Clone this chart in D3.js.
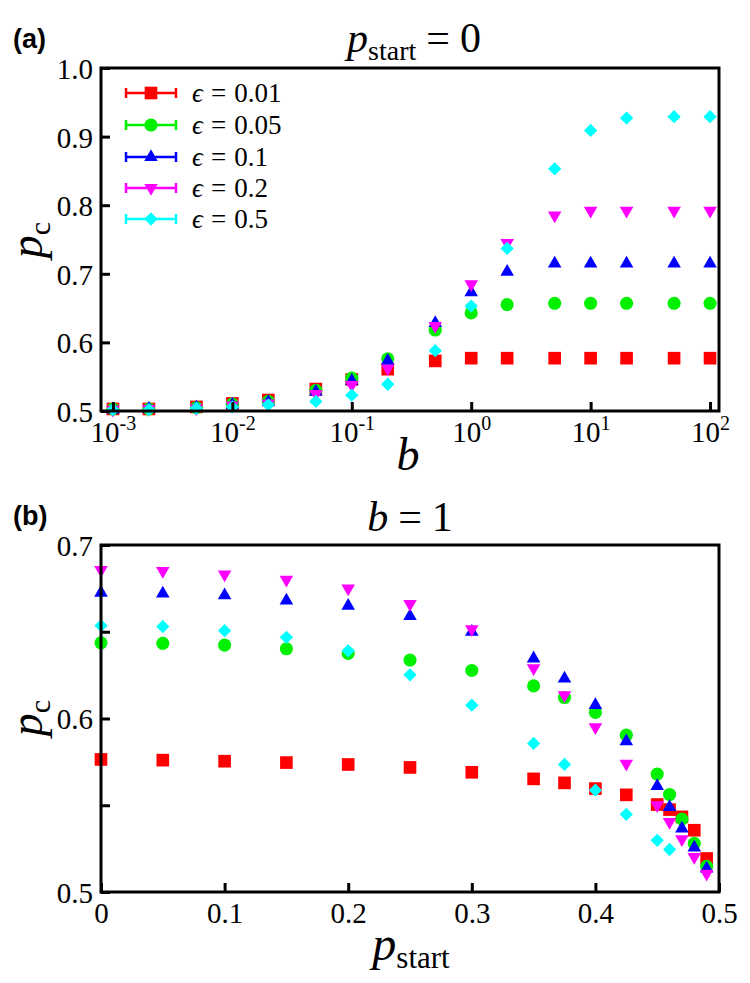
<!DOCTYPE html>
<html><head><meta charset="utf-8">
<script src="https://cdn.jsdelivr.net/npm/d3@7"></script>
<style>body{margin:0;background:#fff}svg{display:block}</style>
</head><body>
<script>
// ---------- data ----------
const epsLabels = ["0.01", "0.05", "0.1", "0.2", "0.5"];
const colors = ["#ff0000", "#00f000", "#0000ff", "#ff00ff", "#00ffff"];
const shapes = ["square", "circle", "triUp", "triDown", "diamond"];

// panel (a): p_start = 0, p_c vs b
const bValues = [0.001, 0.002, 0.005, 0.01, 0.02, 0.05, 0.1, 0.2, 0.5, 1, 2, 5, 10, 20, 50, 100];
const a_eps001 = [0.503, 0.503, 0.506, 0.511, 0.516, 0.532, 0.546, 0.561, 0.573, 0.577, 0.577, 0.577, 0.577, 0.577, 0.577, 0.577];
const a_eps005 = [0.503, 0.503, 0.505, 0.510, 0.514, 0.530, 0.548, 0.576, 0.618, 0.643, 0.655, 0.657, 0.657, 0.657, 0.657, 0.657];
const a_eps01  = [0.502, 0.503, 0.505, 0.509, 0.513, 0.528, 0.544, 0.573, 0.628, 0.673, 0.703, 0.715, 0.715, 0.715, 0.715, 0.715];
const a_eps02  = [0.502, 0.503, 0.504, 0.508, 0.511, 0.525, 0.538, 0.562, 0.624, 0.685, 0.745, 0.785, 0.792, 0.792, 0.792, 0.792];
const a_eps05  = [0.502, 0.502, 0.504, 0.506, 0.509, 0.514, 0.523, 0.539, 0.588, 0.653, 0.737, 0.853, 0.909, 0.927, 0.929, 0.929];

// panel (b): b = 1, p_c vs p_start
const pStart = [0, 0.05, 0.1, 0.15, 0.2, 0.25, 0.3, 0.35, 0.375, 0.4, 0.425, 0.45, 0.46, 0.47, 0.48, 0.49];
const b_eps001 = [0.5764, 0.576, 0.5754, 0.5746, 0.5735, 0.5718, 0.569, 0.5652, 0.5629, 0.5596, 0.556, 0.5504, 0.5475, 0.5433, 0.5356, 0.5193];
const b_eps005 = [0.6436, 0.6433, 0.6423, 0.6402, 0.6375, 0.6337, 0.6277, 0.6188, 0.6121, 0.6035, 0.5904, 0.568, 0.5562, 0.542, 0.528, 0.5148];
const b_eps01  = [0.6725, 0.672, 0.671, 0.668, 0.665, 0.659, 0.650, 0.6346, 0.623, 0.6077, 0.5868, 0.561, 0.549, 0.5366, 0.5256, 0.5135];
const b_eps02  = [0.6856, 0.685, 0.683, 0.680, 0.675, 0.666, 0.6515, 0.629, 0.6135, 0.595, 0.574, 0.55, 0.5404, 0.5304, 0.5202, 0.5106];
const b_eps05  = [0.6535, 0.653, 0.6506, 0.6468, 0.639, 0.6252, 0.6077, 0.5856, 0.5735, 0.5587, 0.5448, 0.5298, 0.5245, null, null, null];

const aTicksX = [1e-3, 1e-2, 1e-1, 1e0, 1e1, 1e2];
const aTicksY = [0.5, 0.6, 0.7, 0.8, 0.9, 1.0];
const bTicksX = [0, 0.1, 0.2, 0.3, 0.4, 0.5];
const bTicksY = [0.5, 0.55, 0.6, 0.65, 0.7];
const bTickLabelsY = ["0.5", "0.6", "0.7"];

// ---------- drawing ----------
const W = 750, H = 983;
const serif = "'Liberation Serif', 'DejaVu Serif', serif";
const svg = d3.select("body").append("svg").attr("width", W).attr("height", H);

function symPath(shape) {
  if (shape === "square") return d3.symbol(d3.symbolSquare, 160)();
  if (shape === "circle") return d3.symbol(d3.symbolCircle, 135)();
  if (shape === "triUp" || shape === "triDown") return d3.symbol(d3.symbolTriangle, 80)();
  if (shape === "diamond") return d3.symbol(d3.symbolSquare, 88)();
}
function symRot(shape) {
  if (shape === "triDown") return 180;
  if (shape === "diamond") return 45;
  return 0;
}

function drawPanel(cfg) {
  const g = svg.append("g");
  const {L, R, T, B} = cfg;
  const x = cfg.x, y = cfg.y;

  cfg.series.forEach((vals, i) => {
    g.append("g").selectAll("path")
      .data(cfg.xs.map((xv, j) => [xv, vals[j]]).filter(d => d[1] != null))
      .join("path")
      .attr("d", symPath(shapes[i]))
      .attr("fill", colors[i])
      .attr("transform", d => `translate(${x(d[0])},${y(d[1])}) rotate(${symRot(shapes[i])})`);
  });

  const ax = g.append("g").attr("transform", `translate(0,${B})`)
    .call(d3.axisBottom(x).tickValues(cfg.ticksX).tickSizeInner(-9).tickSizeOuter(0).tickPadding(10)
      .tickFormat(cfg.fmtX));
  const ay = g.append("g").attr("transform", `translate(${L},0)`)
    .call(d3.axisLeft(y).tickValues(cfg.ticksY).tickSizeInner(-9).tickSizeOuter(0).tickPadding(8)
      .tickFormat(cfg.fmtY));
  [ax, ay].forEach(a => {
    a.attr("font-family", null).attr("font-size", null);
    a.select(".domain").remove();
    a.selectAll(".tick line").attr("stroke", "#000").attr("stroke-width", 3);
    a.selectAll(".tick text").style("font-family", serif).style("font-size", "29px").attr("fill", "#000");
  });
  ay.selectAll(".tick text").attr("dy", "0.36em");
  ax.selectAll(".tick text").attr("dy", "0.74em");
  if (cfg.superX) {
    ax.selectAll(".tick text").each(function(d) {
      const t = d3.select(this);
      t.text(null);
      t.append("tspan").text("10");
      t.append("tspan").attr("dy", -12).style("font-size", "20px").text(String(Math.round(Math.log10(d))));
    });
  }
  g.append("rect").attr("x", L).attr("y", T).attr("width", R - L).attr("height", B - T)
    .attr("fill", "none").attr("stroke", "#000").attr("stroke-width", 3);
  return g;
}

// panel (a)
const ax1 = d3.scaleLog().domain([Math.pow(10, -3.1), Math.pow(10, 2.075)]).range([101, 719]);
const ay1 = d3.scaleLinear().domain([0.5, 1.0]).range([411, 68]);
drawPanel({L: 101, R: 719, T: 68, B: 411, x: ax1, y: ay1, xs: bValues,
  series: [a_eps001, a_eps005, a_eps01, a_eps02, a_eps05],
  ticksX: aTicksX, ticksY: aTicksY, fmtX: d => "", fmtY: d3.format(".1f"), superX: true});

// panel (b)
const bx = d3.scaleLinear().domain([0, 0.5]).range([101, 719]);
const by = d3.scaleLinear().domain([0.5, 0.7]).range([892, 545]);
drawPanel({L: 101, R: 719, T: 545, B: 892, x: bx, y: by, xs: pStart,
  series: [b_eps001, b_eps005, b_eps01, b_eps02, b_eps05],
  ticksX: bTicksX, ticksY: bTicksY,
  fmtX: d => d === 0 ? "0" : d3.format(".1f")(d),
  fmtY: d => bTickLabelsY.includes(d3.format(".2f")(d).replace(/0$/, "")) ? d3.format(".1f")(d) : ""});

// legend
const legRows = [93, 125, 157, 188, 219];
const leg = svg.append("g");
epsLabels.forEach((lab, i) => {
  const yy = legRows[i];
  const c = colors[i];
  leg.append("line").attr("x1", 125).attr("x2", 177).attr("y1", yy).attr("y2", yy).attr("stroke", c).attr("stroke-width", 2.5);
  leg.append("line").attr("x1", 126).attr("x2", 126).attr("y1", yy - 5).attr("y2", yy + 5).attr("stroke", c).attr("stroke-width", 2.5);
  leg.append("line").attr("x1", 176).attr("x2", 176).attr("y1", yy - 5).attr("y2", yy + 5).attr("stroke", c).attr("stroke-width", 2.5);
  leg.append("path").attr("d", symPath(shapes[i])).attr("fill", c)
    .attr("transform", `translate(151,${yy}) rotate(${symRot(shapes[i])})`);
  const t = leg.append("text").attr("x", 192).attr("y", yy + 9).style("font-family", serif).style("font-size", "27px");
  t.append("tspan").attr("font-style", "italic").text("ϵ");
  t.append("tspan").attr("dx", 8).text("=");
  t.append("tspan").attr("dx", 8).text(lab);
});

// texts
function panelLabel(txt, x, y) {
  svg.append("text").attr("x", x).attr("y", y).style("font-family", "'Liberation Sans', Arial, sans-serif")
    .attr("font-weight", "bold").style("font-size", "27px").text(txt);
}
panelLabel("(a)", 13, 48);
panelLabel("(b)", 13, 525);

// title a
const t1 = svg.append("text").attr("x", 414).attr("y", 52).attr("text-anchor", "middle")
  .style("font-family", serif).style("font-size", "42px");
t1.append("tspan").attr("font-style", "italic").text("p");
t1.append("tspan").style("font-size", "28px").attr("dy", 8).text("start");
t1.append("tspan").attr("dy", -8).attr("dx", 10).text("=");
t1.append("tspan").attr("dx", 10).text("0");

// title b
const t2 = svg.append("text").attr("x", 410).attr("y", 531).attr("text-anchor", "middle")
  .style("font-family", serif).style("font-size", "42px");
t2.append("tspan").attr("font-style", "italic").text("b");
t2.append("tspan").attr("dx", 10).text("=");
t2.append("tspan").attr("dx", 10).text("1");

// x labels
svg.append("text").attr("x", 408).attr("y", 470).attr("text-anchor", "middle")
  .style("font-family", serif).style("font-size", "46px").attr("font-style", "italic").text("b");
const xl = svg.append("text").attr("x", 411).attr("y", 960).attr("text-anchor", "middle")
  .style("font-family", serif).style("font-size", "48px");
xl.append("tspan").attr("font-style", "italic").text("p");
xl.append("tspan").style("font-size", "31px").attr("dy", 8).text("start");

// y labels
function yLabel(cy) {
  const t = svg.append("text").attr("transform", `translate(42,${cy}) rotate(-90)`).attr("text-anchor", "middle")
    .style("font-family", serif).style("font-size", "46px");
  t.append("tspan").attr("font-style", "italic").text("p");
  t.append("tspan").style("font-size", "30px").attr("dy", 8).text("c");
}
yLabel(240);
yLabel(718);
</script>
</body></html>
